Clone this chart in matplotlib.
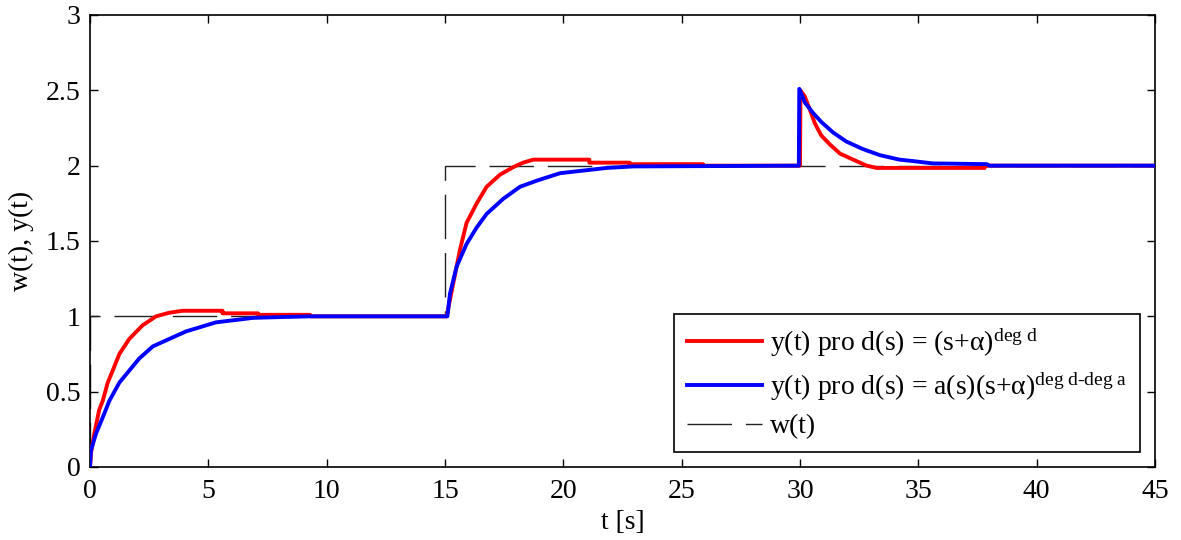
import numpy as np
import matplotlib
matplotlib.use("Agg")
import matplotlib.pyplot as plt

plt.rcParams['font.family'] = ['Liberation Serif', 'DejaVu Serif']
plt.rcParams['mathtext.fontset'] = 'custom'
plt.rcParams['mathtext.rm'] = 'Liberation Serif'
plt.rcParams['mathtext.it'] = 'Liberation Serif:italic'

# response for d(s) = (s+alpha)^deg d
t_red = [0, 0.04, 0.18, 0.39, 0.54, 0.75, 0.96, 1.24, 1.66, 2.22, 2.79, 3.35, 3.91,
         5.6, 5.6, 7.1, 7.1, 9.3, 9.3, 15.07, 15.35, 15.63, 15.91, 16.34, 16.76,
         17.32, 17.88, 18.3, 18.73, 21.1, 21.1, 22.8, 22.8, 25.9, 25.9,
         30.0, 30.02, 30.2, 30.42, 30.63, 30.9, 31.27, 31.69, 32.25, 32.82, 33.24,
         37.8, 37.8, 45]
y_red = [0, 0.09, 0.22, 0.38, 0.44, 0.56, 0.64, 0.75, 0.85, 0.94, 1.0, 1.024, 1.037,
         1.037, 1.02, 1.02, 1.01, 1.01, 1.0, 1.0, 1.22, 1.44, 1.62, 1.75, 1.86,
         1.94, 1.99, 2.02, 2.04, 2.04, 2.02, 2.02, 2.01, 2.01, 2.0,
         2.0, 2.5, 2.46, 2.37, 2.28, 2.20, 2.14, 2.08, 2.04, 2.0, 1.985,
         1.985, 2.0, 2.0]

# response for d(s) = a(s)(s+alpha)^(deg d - deg a)
t_blue = [0, 0.04, 0.25, 0.54, 0.82, 1.24, 1.66, 2.08, 2.65, 3.35, 4.06, 4.9, 5.32,
          6.9, 8.0, 9.3, 15.1, 15.21, 15.49, 15.91, 16.34, 16.76, 17.46, 18.17,
          18.87, 19.86, 20.99, 21.83, 22.96, 29.95, 29.97, 30.2, 30.55, 30.9,
          31.4, 31.96, 32.66, 33.37, 34.2, 34.8, 35.6, 37.9, 38.0, 45]
y_blue = [0, 0.11, 0.22, 0.33, 0.44, 0.56, 0.64, 0.72, 0.80, 0.85, 0.90, 0.94, 0.96,
          0.99, 0.995, 1.0, 1.0, 1.15, 1.33, 1.48, 1.59, 1.68, 1.78, 1.86,
          1.90, 1.95, 1.97, 1.985, 1.995, 2.0, 2.51, 2.42, 2.35, 2.29,
          2.22, 2.16, 2.11, 2.07, 2.04, 2.03, 2.015, 2.01, 2.0, 2.0]

# reference w(t)
t_w = [0, 0, 15, 15, 45]
y_w = [0, 1, 1, 2, 2]

labels = [r'y(t) pro d(s) = (s+α)$^{\mathrm{deg\ d}}$',
          r'y(t) pro d(s) = a(s)(s+α)$^{\mathrm{deg\ d\text{-}deg\ a}}$',
          'w(t)']

fig = plt.figure(figsize=(11.81, 5.4), dpi=100)
ax = fig.add_axes([90/1181, 73/540, 1065/1181, 452/540])

ax.plot(t_red, y_red, color='#ff0000', lw=2.8, label=labels[0], zorder=3)
ax.plot(t_blue, y_blue, color='#0000ff', lw=2.8, label=labels[1], zorder=4)
ax.plot(t_w, y_w, color='#222222', lw=1.0, dashes=(32, 10), label=labels[2], zorder=2)

ax.set_xlim(0, 45)
ax.set_ylim(0, 3)
ax.set_xticks(np.arange(0, 46, 5))
ax.set_yticks([0, 0.5, 1, 1.5, 2, 2.5, 3])
ax.set_yticklabels(['0', '0.5', '1', '1.5', '2', '2.5', '3'])
ax.tick_params(direction='in', top=True, right=True, length=6, width=1,
               labelsize=20)
ax.tick_params(axis='x', pad=9)
ax.tick_params(axis='y', pad=7)
for s in ax.spines.values():
    s.set_linewidth(1.2)

ax.set_xlabel('t [s]', fontsize=20, labelpad=4)
ax.set_ylabel('w(t), y(t)', fontsize=20, labelpad=8)

leg = ax.legend(loc='lower right', fontsize=20, fancybox=False, framealpha=1,
                edgecolor='k', handlelength=2.7, handletextpad=0.3,
                labelspacing=0.4, borderaxespad=0.55, borderpad=0.45)
leg.get_frame().set_linewidth(1.2)

fig.savefig('out.png', dpi=100)
